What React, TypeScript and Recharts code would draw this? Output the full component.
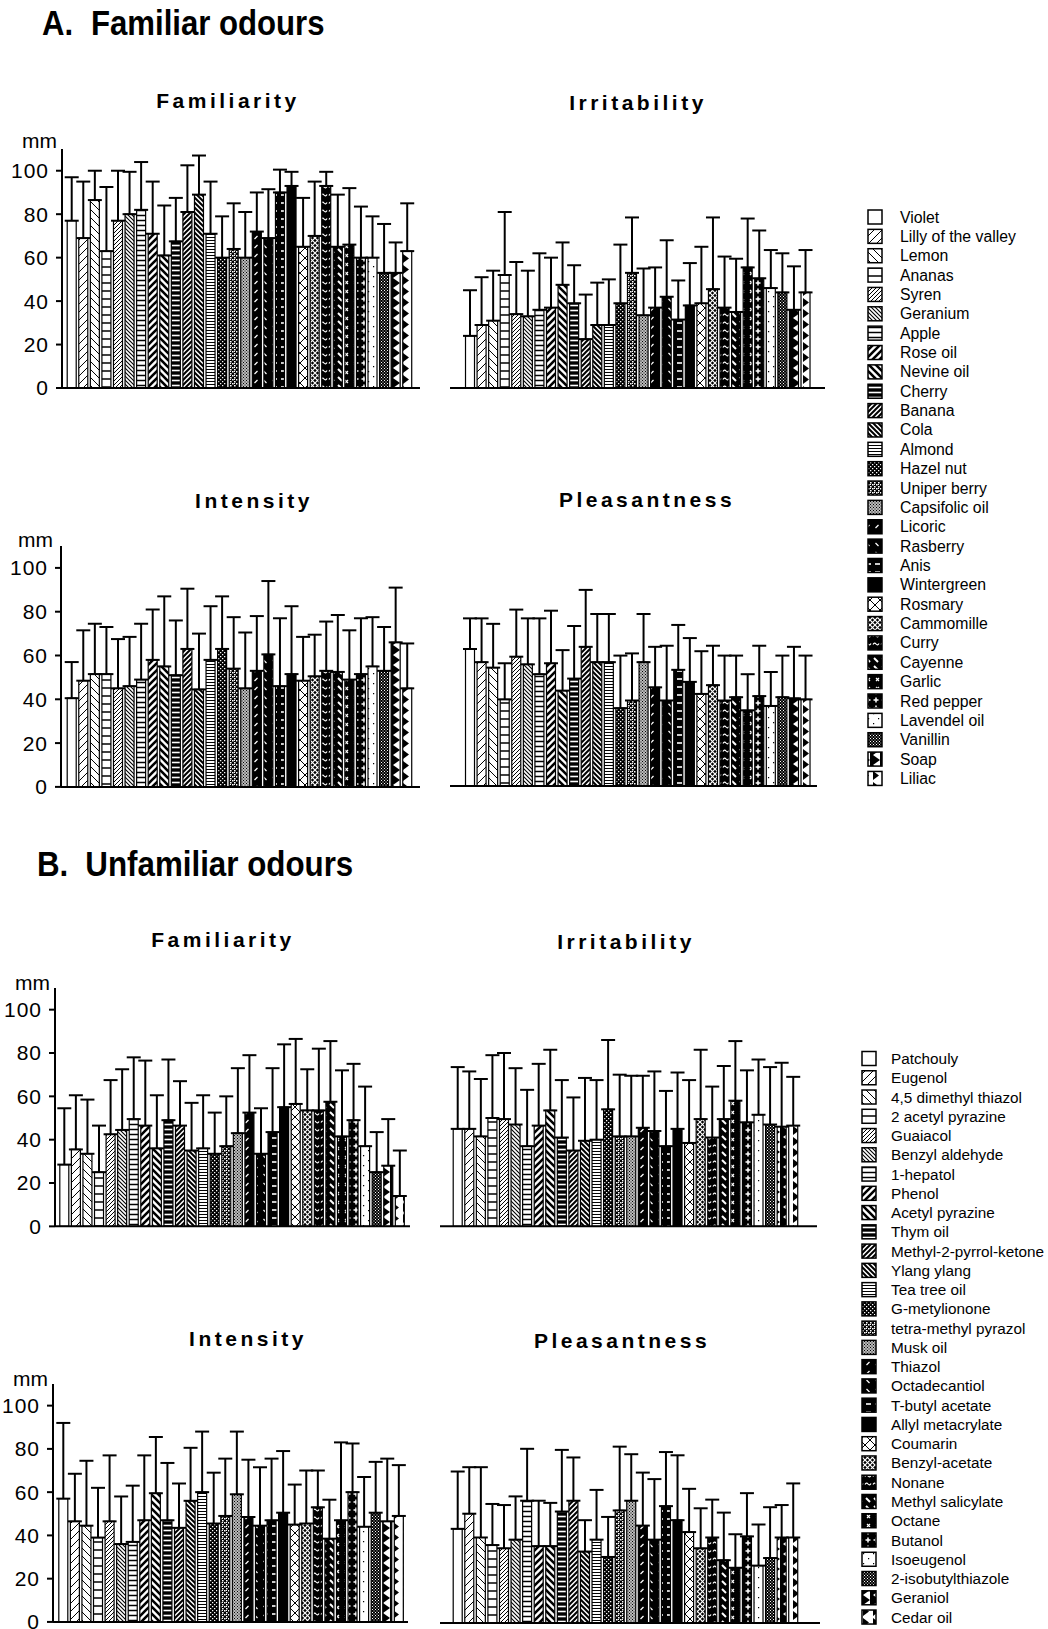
import React from 'react';
import { BarChart, Bar, XAxis, YAxis, Cell, ErrorBar } from 'recharts';

const familiarOdours = ['Violet', 'Lilly of the valley', 'Lemon', 'Ananas', 'Syren', 'Geranium', 'Apple', 'Rose oil', 'Nevine oil', 'Cherry', 'Banana', 'Cola', 'Almond', 'Hazel nut', 'Uniper berry', 'Capsifolic oil', 'Licoric', 'Rasberry', 'Anis', 'Wintergreen', 'Rosmary', 'Cammomille', 'Curry', 'Cayenne', 'Garlic', 'Red pepper', 'Lavendel oil', 'Vanillin', 'Soap', 'Liliac'];
const unfamiliarOdours = ['Patchouly', 'Eugenol', '4,5 dimethyl thiazol', '2 acetyl pyrazine', 'Guaiacol', 'Benzyl aldehyde', '1-hepatol', 'Phenol', 'Acetyl pyrazine', 'Thym oil', 'Methyl-2-pyrrol-ketone', 'Ylang ylang', 'Tea tree oil', 'G-metylionone', 'tetra-methyl pyrazol', 'Musk oil', 'Thiazol', 'Octadecantiol', 'T-butyl acetate', 'Allyl metacrylate', 'Coumarin', 'Benzyl-acetate', 'Nonane', 'Methyl salicylate', 'Octane', 'Butanol', 'Isoeugenol', '2-isobutylthiazole', 'Geraniol', 'Cedar oil'];

// A. Familiar odours (mean, SD in mm)
const famFamiliarity = [77, 69, 86.5, 63, 77, 80, 82, 71, 61, 67.5, 81, 89, 71, 60, 64, 60, 72, 69, 90, 93, 65, 70, 93, 65, 66, 60, 60, 53, 53, 63];
const famFamiliaritySD = [20, 26, 13.5, 29.5, 23, 19.5, 22, 24, 23, 20, 21.5, 18, 24, 19, 21, 21, 18, 22.5, 10.5, 6.5, 22.5, 25, 6.5, 24, 26, 23.5, 19, 22.5, 14, 22];
const famIrritability = [24, 29, 31, 52, 34, 33, 36, 37, 47.5, 39, 22.5, 29, 29, 39, 53, 33.5, 37, 42, 31.5, 38, 39, 45.5, 37, 35, 55.5, 50.5, 46, 44, 36, 44];
const famIrritabilitySD = [21, 22, 23, 29, 24, 21, 26, 23, 19.5, 17.5, 20.5, 19.5, 21, 27, 25.5, 21.5, 18.5, 26, 18, 19.5, 26, 33, 23.5, 24.5, 22.5, 22, 17.5, 18, 20, 19.5];
const famIntensity = [40.5, 48.5, 51.5, 51.5, 45, 46, 49, 58, 55, 51, 63, 44.5, 58, 63, 54, 45, 53, 60.5, 46, 51.5, 48.5, 50.5, 53, 52.5, 49, 51.5, 55, 53, 66, 45];
const famIntensitySD = [16.5, 23, 23, 21.5, 22.5, 22.5, 25.5, 23, 32, 25, 27.5, 25.5, 24.5, 24, 23.5, 25.5, 25, 33.5, 31, 31, 20, 19, 22.5, 26, 22.5, 25.5, 22.5, 20, 25, 20.5];
const famPleasantness = [62.5, 56.5, 54, 39.5, 59, 55.5, 51, 56, 43.5, 49, 63.5, 56.5, 56.5, 35.5, 39, 56.5, 45, 39, 53, 47.5, 42, 46, 39, 40.5, 34.5, 41, 36.5, 40.5, 40, 39.5];
const famPleasantnessSD = [14, 20, 20, 16.5, 21.5, 21, 25.5, 24, 18.5, 24, 26, 22, 22, 24, 21.5, 22, 18.5, 25, 20.5, 20, 19.5, 18, 20.5, 19, 16.5, 23, 15.5, 19, 23.5, 20];

// B. Unfamiliar odours (mean, SD in mm)
const unfFamiliarity = [28.5, 35.5, 33.5, 25, 42.5, 44.5, 49.5, 46.5, 36, 49, 46.5, 35, 36, 33.5, 37, 43, 52.5, 33.5, 43.5, 55, 56.5, 53.5, 53.5, 57.5, 41.5, 49, 37, 25, 28, 14];
const unfFamiliaritySD = [26, 25, 25, 21.5, 25, 28, 28.5, 30, 24.5, 28, 20.5, 22, 24.5, 19, 23, 30, 26.5, 21, 29.5, 29, 30, 19, 28.5, 28, 30.5, 26, 27.5, 18.5, 21.5, 21];
const unfIrritability = [45, 45, 41.5, 50, 49.5, 47, 37, 46.5, 53.5, 41, 35, 39.5, 40, 54, 41.5, 41.5, 45.5, 44, 37, 45, 38.5, 49.5, 41, 49.5, 58, 48, 51.5, 47, 46, 46.5];
const unfIrritabilitySD = [28.5, 26.5, 26.5, 29, 30.5, 26, 26, 28.5, 28, 26.5, 24.5, 29, 27.5, 32, 28.5, 28, 24, 27.5, 25.5, 26, 29, 32, 23.5, 24.5, 27.5, 24, 25.5, 26.5, 29.5, 22.5];
const unfIntensity = [57, 46.5, 44.5, 39, 46.5, 36, 37, 47, 59.5, 47, 43.5, 56, 60, 45.5, 49, 59, 48.5, 44.5, 47, 50.5, 45, 45.5, 53, 38.5, 47, 60, 44, 50.5, 46.5, 49];
const unfIntensitySD = [35, 22, 30, 23, 30.5, 22, 26, 30, 26, 26.5, 20.5, 24.5, 28, 23.5, 26.5, 29, 26.5, 27, 28.5, 28.5, 18.5, 24.5, 17, 18, 36, 22.5, 23, 23.5, 29, 23.5];
const unfPleasantness = [43.5, 50.5, 39.5, 36, 34.5, 38.5, 56.5, 35.5, 35.5, 51.5, 56.5, 33, 38.5, 30.5, 52, 56.5, 45, 38.5, 54, 47.5, 42, 34.5, 39.5, 29, 25.5, 40, 26.5, 30, 39.5, 39.5];
const unfPleasantnessSD = [26.5, 21.5, 32.5, 19, 20, 20, 24, 21, 20, 28.5, 20, 14.5, 23, 18.5, 29.5, 21.5, 24.5, 28, 25, 30, 20, 18.5, 17.5, 22, 15.5, 20, 19, 23.5, 15, 25];

const yTicks = [0, 20, 40, 60, 80, 100];
const FONT = '"Liberation Sans", Arial, Helvetica, sans-serif';

type PanelProps = {
  names: string[];
  means: number[];
  sds: number[];
  axisL: number;
  axisR: number;
  firstBar: number;
  base: number;
  px100: number;
  yAxis: boolean;
};

const BAND = 11.57;
const BAR = 9;

function Panel({ names, means, sds, axisL, axisR, firstBar, base, px100, yAxis }: PanelProps) {
  const data = names.map((n, i) => ({ name: n, v: means[i], e: [0, sds[i]] }));
  const yW = yAxis ? axisL : 0;
  const svgLeft = axisL - yW;
  const plotH = 1.1 * px100;
  const mTop = 6;
  const xH = 2;
  const mBottom = 20;
  const top = base - plotH - mTop;
  const width = axisR - svgLeft + 2;
  const height = mTop + plotH + xH + mBottom;
  const bandStart = firstBar - 0.5;
  const padL = bandStart - axisL;
  const padR = axisR - (bandStart + names.length * BAND);
  return (
    <div style={{ position: 'absolute', left: svgLeft, top }}>
      <BarChart width={width} height={height} data={data} margin={{ top: mTop, right: 2, bottom: mBottom, left: 0 }}>
        <XAxis
          dataKey="name"
          type="category"
          tick={false}
          tickLine={false}
          axisLine={{ stroke: '#000', strokeWidth: 2 }}
          height={xH}
          padding={{ left: padL, right: padR }}
        />
        <YAxis
          type="number"
          domain={[0, 110]}
          ticks={yTicks}
          hide={!yAxis}
          width={yW}
          axisLine={{ stroke: '#000', strokeWidth: 2 }}
          tickLine={{ stroke: '#000', strokeWidth: 2 }}
          tickSize={6}
          tickMargin={7}
          tick={{ fontSize: 21, fill: '#000', fontFamily: FONT, letterSpacing: 1 }}
          allowDataOverflow
        />
        <Bar dataKey="v" barSize={BAR} stroke="#000" strokeWidth={1.2} isAnimationActive={false}>
          {data.map((d, i) => (
            <Cell key={d.name} fill={`url(#p${i})`} />
          ))}
          <ErrorBar dataKey="e" direction="y" width={7} stroke="#000" strokeWidth={2} />
        </Bar>
      </BarChart>
    </div>
  );
}

function Patterns() {
  const W = '#fff';
  const K = '#000';
  const pat = (id: number, w: number, h: number, bg: string, children: React.ReactNode) => (
    <pattern key={id} id={`p${id}`} patternUnits="userSpaceOnUse" width={w} height={h}>
      <rect x={0} y={0} width={w} height={h} fill={bg} />
      {children}
    </pattern>
  );
  return (
    <defs>
      {pat(0, 4, 4, W, null)}
      {pat(1, 8, 8, W, <path d="M0,8 L8,0 M-2,2 L2,-2 M6,10 L10,6" stroke={K} strokeWidth={1} />)}
      {pat(2, 8, 8, W, <path d="M0,0 L8,8 M-2,6 L2,10 M6,-2 L10,2" stroke={K} strokeWidth={1} />)}
      {pat(3, 8, 8, W, <path d="M0,4 L8,4" stroke={K} strokeWidth={1.5} />)}
      {pat(4, 4, 4, W, <path d="M0,4 L4,0 M-1,1 L1,-1 M3,5 L5,3" stroke={K} strokeWidth={1} />)}
      {pat(5, 4, 4, W, <path d="M0,0 L4,4 M-1,3 L1,5 M3,-1 L5,1" stroke={K} strokeWidth={1.1} />)}
      {pat(6, 4, 5, W, <path d="M0,2.5 L4,2.5" stroke={K} strokeWidth={1.5} />)}
      {pat(7, 7, 7, W, <path d="M0,7 L7,0 M-2,2 L2,-2 M5,9 L9,5" stroke={K} strokeWidth={2.6} />)}
      {pat(8, 7, 7, W, <path d="M0,0 L7,7 M-2,5 L2,9 M5,-2 L9,2" stroke={K} strokeWidth={2.6} />)}
      {pat(9, 4, 5, K, <path d="M0,2.5 L4,2.5" stroke={W} strokeWidth={1.6} />)}
      {pat(10, 5, 5, W, <path d="M0,5 L5,0 M-2,2 L2,-2 M3,7 L7,3" stroke={K} strokeWidth={2} />)}
      {pat(11, 5, 5, W, <path d="M0,0 L5,5 M-2,3 L2,7 M3,-2 L7,2" stroke={K} strokeWidth={2} />)}
      {pat(12, 3, 3, W, <path d="M0,1.5 L3,1.5" stroke={K} strokeWidth={1} />)}
      {pat(13, 4, 4, K, <path d="M0,0 h1.3 v1.3 h-1.3 Z M2,2 h1.3 v1.3 h-1.3 Z" fill={W} />)}
      {pat(14, 4, 4, K, <path d="M0,0 h1.6 v1.6 h-1.6 Z M2,2 h1.6 v1.6 h-1.6 Z M2,0 h1 v1 h-1 Z" fill={W} />)}
      {pat(15, 3, 3, '#bbb', <path d="M0,0 h1 v1 h-1 Z M1.5,1.5 h1 v1 h-1 Z" fill={K} />)}
      {pat(16, 9, 9, K, <path d="M2.5,6 L5.5,3" stroke={W} strokeWidth={1.2} />)}
      {pat(17, 9, 9, K, <path d="M2.5,3 L5.5,6" stroke={W} strokeWidth={1.2} />)}
      {pat(18, 9, 8, K, <path d="M2,4 L7,4" stroke={W} strokeWidth={1.6} />)}
      {pat(19, 4, 4, K, null)}
      {pat(20, 10, 10, W, <path d="M0,0 L10,10 M10,0 L0,10" stroke={K} strokeWidth={1} />)}
      {pat(21, 5, 5, K, <path d="M0,0 L5,5 M5,0 L0,5" stroke={W} strokeWidth={1.2} />)}
      {pat(22, 8, 8, K, <path d="M1,4.5 Q2.5,2 4,4 T7,3.5" stroke={W} strokeWidth={1.2} fill="none" />)}
      {pat(23, 8, 8, K, <path d="M2,2 L6,6" stroke={W} strokeWidth={2} />)}
      {pat(24, 9, 9, K, <path d="M3,3 L6,6 M6,3 L3,6" stroke={W} strokeWidth={1.2} />)}
      {pat(25, 8, 8, K, <path d="M4,1.5 L4,6.5 M1.5,4 L6.5,4" stroke={W} strokeWidth={1.5} />)}
      {pat(26, 10, 10, W, <path d="M3,3 h1.2 v1.2 h-1.2 Z M8,8 h1.2 v1.2 h-1.2 Z" fill={K} />)}
      {pat(27, 3, 3, K, <path d="M0,0 h1 v1 h-1 Z M1.5,1.5 h1 v1 h-1 Z" fill={W} />)}
      {pat(28, 10, 10, K, <path d="M10,0 L3,5 L10,10 Z" fill={W} />)}
      {pat(29, 10, 11, W, <path d="M3,1 L9,5.5 L3,10 Z" fill={K} />)}
    </defs>
  );
}

type TitleSpec = { text: string; cx: number; y: number };
const panelTitles: TitleSpec[] = [
  { text: 'Familiarity', cx: 228, y: 108 },
  { text: 'Irritability', cx: 638, y: 110 },
  { text: 'Intensity', cx: 254, y: 508 },
  { text: 'Pleasantness', cx: 647, y: 507 },
  { text: 'Familiarity', cx: 223, y: 947 },
  { text: 'Irritability', cx: 626, y: 949 },
  { text: 'Intensity', cx: 248, y: 1346 },
  { text: 'Pleasantness', cx: 622, y: 1348 },
];

const mmLabels = [
  { x: 22, y: 148 },
  { x: 18, y: 547 },
  { x: 15, y: 990 },
  { x: 13, y: 1386 },
];

function Legend({ names, boxX, textX, y0, step, fontSize }: { names: string[]; boxX: number; textX: number; y0: number; step: number; fontSize: number }) {
  return (
    <g>
      {names.map((n, i) => {
        const cy = y0 + i * step;
        return (
          <g key={n}>
            <rect x={boxX} y={cy - 7} width={14} height={14} fill={`url(#p${i})`} stroke="#000" strokeWidth={1.5} />
            <text x={textX} y={cy + 5.5} fontSize={fontSize} fontFamily={FONT} fill="#000">
              {n}
            </text>
          </g>
        );
      })}
    </g>
  );
}

export default function App() {
  return (
    <div style={{ position: 'absolute', left: 0, top: 0, width: 1048, height: 1629, overflow: 'hidden', background: '#fff' }}>
      <svg width={1048} height={1629} style={{ position: 'absolute', left: 0, top: 0 }}>
        <Patterns />
        <g transform="translate(42,35) scale(0.89,1)">
          <text x={0} y={0} fontSize={35} fontWeight="bold" fontFamily={FONT} fill="#000">
            A.<tspan dx={20}>Familiar odours</tspan>
          </text>
        </g>
        <g transform="translate(37,876) scale(0.895,1)">
          <text x={0} y={0} fontSize={35} fontWeight="bold" fontFamily={FONT} fill="#000">
            B.<tspan dx={19}>Unfamiliar odours</tspan>
          </text>
        </g>
        {panelTitles.map((t, i) => (
          <text key={i} x={t.cx} y={t.y} textAnchor="middle" fontSize={21} fontWeight="bold" fontFamily={FONT} letterSpacing={3.5} fill="#000">
            {t.text}
          </text>
        ))}
        {mmLabels.map((m, i) => (
          <text key={i} x={m.x} y={m.y} fontSize={21} fontFamily={FONT} fill="#000">
            mm
          </text>
        ))}
        <Legend names={familiarOdours} boxX={868} textX={900} y0={217} step={19.36} fontSize={15.8} />
        <Legend names={unfamiliarOdours} boxX={862} textX={891} y0={1058.5} step={19.26} fontSize={15.3} />
      </svg>

      <Panel names={familiarOdours} means={famFamiliarity} sds={famFamiliaritySD} axisL={62} axisR={420} firstBar={66.7} base={388.3} px100={217.3} yAxis />
      <Panel names={familiarOdours} means={famIrritability} sds={famIrritabilitySD} axisL={450} axisR={825} firstBar={465} base={388.3} px100={217.3} yAxis={false} />
      <Panel names={familiarOdours} means={famIntensity} sds={famIntensitySD} axisL={61} axisR={420} firstBar={66.7} base={786.7} px100={219} yAxis />
      <Panel names={familiarOdours} means={famPleasantness} sds={famPleasantnessSD} axisL={450} axisR={817} firstBar={465} base={785.7} px100={219} yAxis={false} />

      <Panel names={unfamiliarOdours} means={unfFamiliarity} sds={unfFamiliaritySD} axisL={55} axisR={410} firstBar={59.3} base={1226} px100={216.7} yAxis />
      <Panel names={unfamiliarOdours} means={unfIrritability} sds={unfIrritabilitySD} axisL={440} axisR={817} firstBar={452.7} base={1226.7} px100={216.7} yAxis={false} />
      <Panel names={unfamiliarOdours} means={unfIntensity} sds={unfIntensitySD} axisL={53} axisR={408} firstBar={58.3} base={1622} px100={216.3} yAxis />
      <Panel names={unfamiliarOdours} means={unfPleasantness} sds={unfPleasantnessSD} axisL={440} axisR={820} firstBar={452.7} base={1622.7} px100={216.3} yAxis={false} />
    </div>
  );
}
